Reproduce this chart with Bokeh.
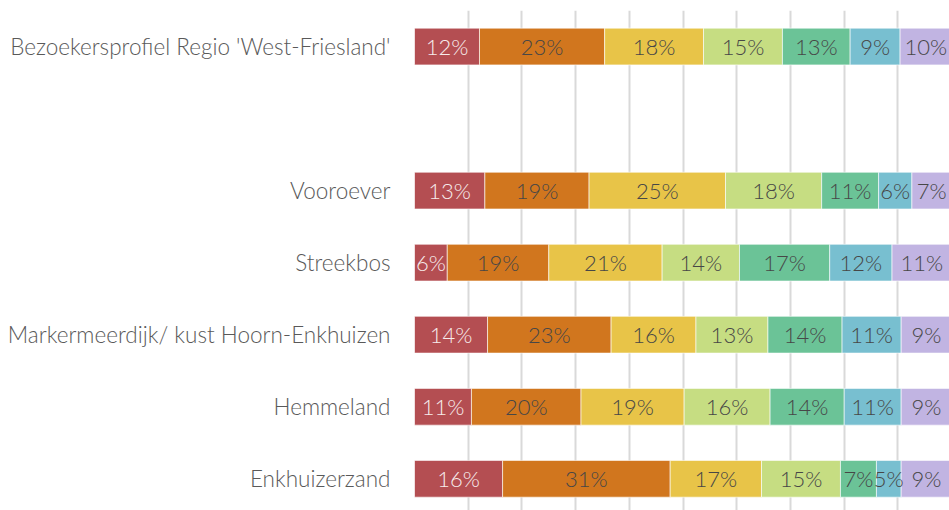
import numpy as np
from bokeh.plotting import figure
from bokeh.models import ColumnDataSource, Range1d, FixedTicker
from bokeh.core.properties import value
from bokeh.embed import file_html
from bokeh.resources import INLINE

# categories, top to bottom (one empty slot after the first)
categories = ["Bezoekersprofiel Regio 'West-Friesland'", "Vooroever", "Streekbos",
              "Markermeerdijk/ kust Hoorn-Enkhuizen", "Hemmeland", "Enkhuizerzand"]
row_pos = [6, 4, 3, 2, 1, 0]

seg1 = [12.1, 13.1, 6.1, 13.6, 10.6, 16.4]
seg2 = [23.3, 19.4, 18.9, 23.0, 20.4, 31.2]
seg3 = [18.4, 25.4, 21.1, 15.8, 19.2, 17.0]
seg4 = [14.7, 17.9, 14.4, 13.4, 16.0, 14.7]
seg5 = [12.6, 10.6, 16.8, 13.8, 13.8, 6.7]
seg6 = [9.3, 6.2, 11.6, 11.0, 10.6, 4.6]
seg7 = [9.6, 7.4, 11.1, 9.4, 9.4, 9.4]

series = [seg1, seg2, seg3, seg4, seg5, seg6, seg7]
names = ["s1", "s2", "s3", "s4", "s5", "s6", "s7"]
colors = ["#b44e52", "#d1761e", "#e8c448", "#c6dd82", "#6bc397", "#78bfd0", "#c1b4e2"]
label_colors = ["#f7ecec", "#474747", "#474747", "#474747", "#474747", "#474747", "#474747"]

data = {"y": row_pos}
for n, s in zip(names, series):
    data[n] = s
source = ColumnDataSource(data)

p = figure(width=949, height=510, output_backend="svg", toolbar_location=None,
           x_range=Range1d(0, 99.6), y_range=Range1d(-0.44, 6.5),
           min_border_left=414, min_border_right=0, min_border_top=10, min_border_bottom=0)
p.outline_line_color = None
p.background_fill_color = "white"
p.border_fill_color = "white"

p.hbar_stack(names, y="y", height=0.51, color=colors, source=source,
             line_color="white", line_width=1, line_alpha=0.6)

# labels
arr = np.array(series)
cum = np.cumsum(arr, axis=0)
mids = cum - arr / 2.0
font = "Lato Light"
for i in range(len(series)):
    lsrc = ColumnDataSource(dict(x=list(mids[i]), y=row_pos,
                                 t=[f"{round(v + 1e-9):.0f}%" for v in series[i]]))
    p.text(x="x", y="y", text="t", source=lsrc, text_align="center",
           text_baseline="middle", text_font=value(font), text_font_size="22px",
           text_color=label_colors[i])

p.xaxis.visible = False
p.xgrid.ticker = FixedTicker(ticks=list(range(0, 101, 10)))
p.xgrid.grid_line_color = "#d9d9d9"
p.xgrid.grid_line_width = 2
p.ygrid.grid_line_color = None

ax = p.yaxis[0]
ax.ticker = FixedTicker(ticks=row_pos)
ax.major_label_overrides = {pos: c for pos, c in zip(row_pos, categories)}
ax.axis_line_color = None
ax.major_tick_line_color = None
ax.minor_tick_line_color = None
ax.major_label_standoff = 18
ax.major_label_text_font = font
ax.major_label_text_font_size = "22.5px"
ax.major_label_text_color = "#595959"

open("out.html", "w").write(file_html(p, INLINE))
